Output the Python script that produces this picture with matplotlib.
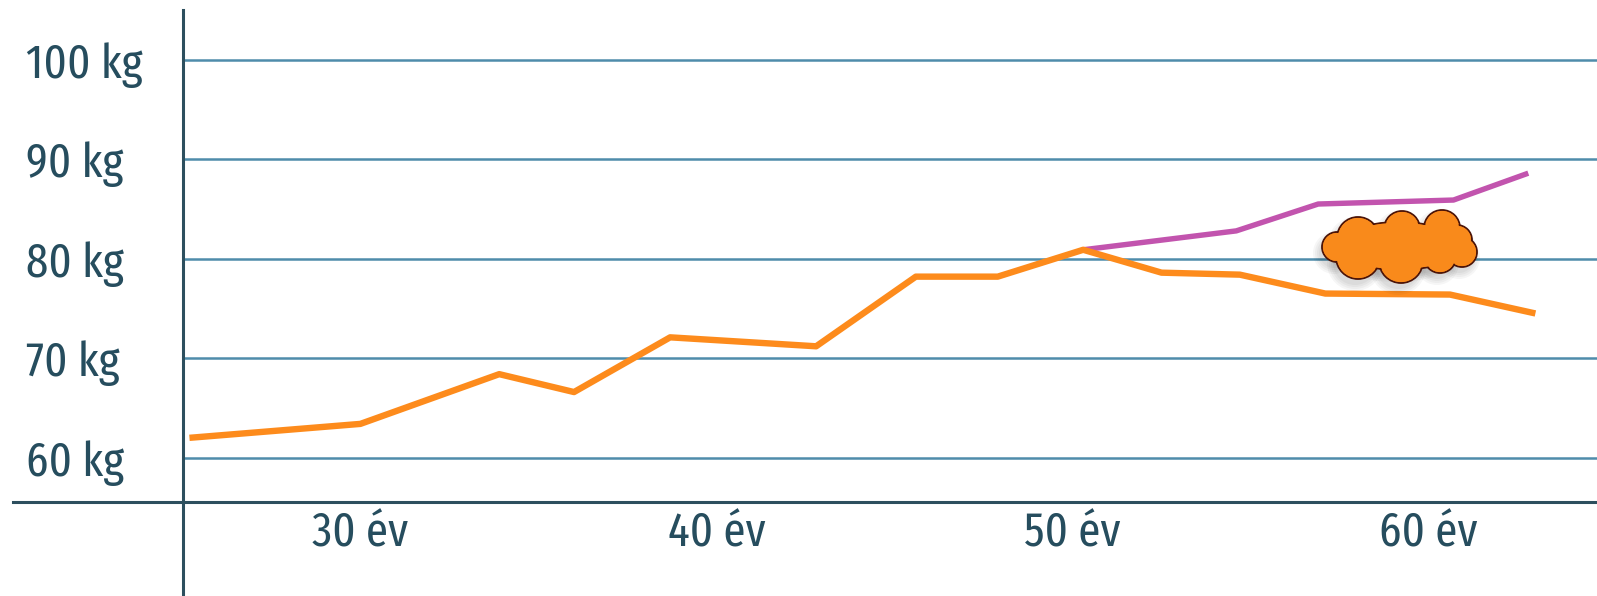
import numpy as np
import matplotlib
matplotlib.use("Agg")
import matplotlib.pyplot as plt
from matplotlib.patches import Ellipse

# data
ages = [25.2, 30.0, 33.9, 36.0, 38.7, 42.8, 45.6, 47.9, 50.3, 52.5, 54.7, 57.1, 60.6, 63.0]
weight = [62.0, 63.4, 68.4, 66.6, 72.1, 71.2, 78.2, 78.2, 80.9, 78.6, 78.4, 76.5, 76.4, 74.5]
ages_alt = [50.3, 54.6, 56.9, 60.7, 62.8]
weight_alt = [80.9, 82.8, 85.5, 85.9, 88.6]

xticks = [30, 40, 50, 60]
xlabels = ["30 év", "40 év", "50 év", "60 év"]
yticks = [60, 70, 80, 90, 100]
ylabels = ["60 kg", "70 kg", "80 kg", "90 kg", "100 kg"]

text_col = "#264d5e"
axis_col = "#2d4f5e"
grid_col = "#4f8cab"
orange = "#fd8b1c"
purple = "#c254ae"

plt.rcParams['font.family'] = ['Fira Sans Extra Condensed', 'Fira Sans Condensed', 'DejaVu Sans']

W, H = 1597, 596
fig = plt.figure(figsize=(W / 100, H / 100), dpi=100)
# axes corner sits where the two axis lines cross
x0, y0, y1 = 183.4, 502, 10
ax = fig.add_axes([x0 / W, (H - y0) / H, 1 - x0 / W, (y0 - y1) / H])
ax.set_xlim(25.03, 64.73)
ax.set_ylim(55.55, 105)

for s in ax.spines.values():
    s.set_visible(False)

ax.set_yticks(yticks, ylabels)
ax.set_xticks(xticks, xlabels)
ax.tick_params(axis='both', length=0, labelsize=35, labelcolor=text_col)
ax.tick_params(axis='y', pad=113)
ax.tick_params(axis='x', pad=6)
for lab in ax.get_yticklabels():
    lab.set_ha('left')
ax.grid(axis='y', color=grid_col, lw=1.8)
ax.set_axisbelow(True)

# axis lines, running past the corner
axw, axh = W - x0, y0 - y1
ax.plot([(13 - x0) / axw, 1], [0, 0], transform=ax.transAxes, color=axis_col,
        lw=2.2, clip_on=False, zorder=3)
ax.plot([0, 0], [(y0 - H) / axh, 1], transform=ax.transAxes, color=axis_col,
        lw=2.2, clip_on=False, zorder=3)

ax.plot(ages_alt, weight_alt, color=purple, lw=3.9, zorder=4, solid_capstyle='butt')
ax.plot(ages, weight, color=orange, lw=4.6, zorder=5, solid_capstyle='butt')

# little cloud, built from overlapping ellipses (pixel sizes -> axes fraction)
bumps = [(1337, 247, 15, 15), (1358, 238, 21, 21), (1402, 229, 18, 18),
         (1442, 228, 18, 18), (1457, 240, 15, 15), (1462, 252, 15, 15),
         (1440, 257, 16, 16), (1401, 261, 22, 22), (1358, 257, 22, 22),
         (1399, 246, 62, 24)]


def blob(cx, cy, rx, ry, **kw):
    return Ellipse(((cx - x0) / axw, (y0 - cy) / axh), 2 * rx / axw, 2 * ry / axh,
                   transform=ax.transAxes, **kw)


# soft shadow: a few growing, faint copies
for grow in (6, 4, 2, 0):
    for cx, cy, rx, ry in bumps:
        ax.add_patch(blob(cx - 3, cy + 6, rx + grow, ry + grow, facecolor="#000000",
                          alpha=0.035, lw=0, zorder=6))
for cx, cy, rx, ry in bumps:
    ax.add_patch(blob(cx, cy, rx, ry, facecolor=orange, edgecolor="#4b1408",
                      lw=1.3, zorder=7))
for cx, cy, rx, ry in bumps:
    ax.add_patch(blob(cx, cy, rx - 1, ry - 1, facecolor="#f98a1b", lw=0, zorder=8))

fig.savefig("out.png", dpi=100)
